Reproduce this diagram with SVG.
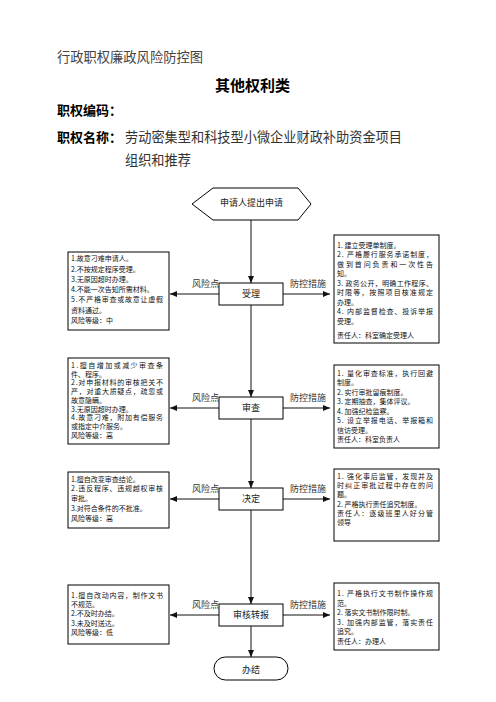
<svg xmlns="http://www.w3.org/2000/svg" width="496" height="702" viewBox="0 0 496 702">
<defs>
<style>
text{font-family:"Noto Sans CJK SC","Liberation Sans",sans-serif}
.hd{font-size:13.3px;fill:#444}
.bd{font-size:13px;font-weight:bold;fill:#000}
.ti{font-size:15px;font-weight:bold;fill:#000}
.nm{font-size:13.2px;fill:#333}
.n{font-size:9px;fill:#222;text-anchor:middle}
.lb{font-size:9px;fill:#333}
.t{font-size:7px;fill:#111}
.box{fill:#fff;stroke:#000;stroke-width:1}
.conn line{stroke:#111;stroke-width:1;fill:none}
</style>
<marker id="ah" markerUnits="userSpaceOnUse" markerWidth="7" markerHeight="6" refX="7" refY="3" orient="auto">
<path d="M0,0 L7,3 L0,6 z" fill="#111"/>
</marker>
</defs>
<rect width="496" height="702" fill="#fff"/>

<g id="header">
<text class="hd" x="57" y="61.8" textLength="146">行政职权廉政风险防控图</text>
<text class="ti" x="252.5" y="90.7" text-anchor="middle">其他权利类</text>
<text class="bd" x="57" y="115">职权编码：</text>
<text class="bd" x="57" y="141.7">职权名称：</text>
<text class="nm" x="125" y="142" textLength="277">劳动密集型和科技型小微企业财政补助资金项目</text>
<text class="nm" x="125" y="165">组织和推荐</text>
</g>

<g class="conn" id="connectors">
<line x1="251" y1="220" x2="251" y2="283" marker-end="url(#ah)"/>
<line x1="251" y1="305" x2="251" y2="397" marker-end="url(#ah)"/>
<line x1="251" y1="419" x2="251" y2="488" marker-end="url(#ah)"/>
<line x1="251" y1="510" x2="251" y2="604" marker-end="url(#ah)"/>
<line x1="251" y1="626" x2="251" y2="657" marker-end="url(#ah)"/>
<line x1="219" y1="294" x2="170" y2="294" marker-end="url(#ah)"/>
<line x1="283" y1="294" x2="330" y2="294" marker-end="url(#ah)"/>
<line x1="219" y1="408" x2="170" y2="408" marker-end="url(#ah)"/>
<line x1="283" y1="408" x2="330" y2="408" marker-end="url(#ah)"/>
<line x1="219" y1="499" x2="170" y2="499" marker-end="url(#ah)"/>
<line x1="283" y1="499" x2="330" y2="499" marker-end="url(#ah)"/>
<line x1="219" y1="615" x2="170" y2="615" marker-end="url(#ah)"/>
<line x1="283" y1="615" x2="330" y2="615" marker-end="url(#ah)"/>
</g>

<g id="labels">
<text class="lb" x="192" y="287">风险点</text>
<text class="lb" x="290" y="287">防控措施</text>
<text class="lb" x="192" y="401">风险点</text>
<text class="lb" x="290" y="401">防控措施</text>
<text class="lb" x="192" y="492">风险点</text>
<text class="lb" x="290" y="492">防控措施</text>
<text class="lb" x="192" y="608">风险点</text>
<text class="lb" x="290" y="608">防控措施</text>
</g>

<g id="start">
<polygon class="box" points="192,204 213,188 298,188 311,204 298,220 213,220"/>
<text class="n" x="251.5" y="206.4">申请人提出申请</text>
</g>
<g id="shouli">
<rect class="box" x="219" y="283" width="64" height="22"/>
<text class="n" x="251" y="297.4">受理</text>
</g>
<g id="shencha">
<rect class="box" x="219" y="397" width="64" height="22"/>
<text class="n" x="251" y="411.4">审查</text>
</g>
<g id="jueding">
<rect class="box" x="219" y="488" width="64" height="22"/>
<text class="n" x="251" y="502.4">决定</text>
</g>
<g id="zhuanbao">
<rect class="box" x="219" y="604" width="64" height="22"/>
<text class="n" x="251" y="618.4">审核转报</text>
</g>
<g id="banjie">
<rect class="box" x="214" y="657" width="74" height="23" rx="11.5"/>
<text class="n" x="251" y="673">办结</text>
</g>

<g id="risk1">
<rect class="box" x="68" y="252" width="101" height="78"/>
<text class="t" x="71" y="261.2">1.故意刁难申请人。</text>
<text class="t" x="71" y="271.5">2.不按规定程序受理。</text>
<text class="t" x="71" y="281.8">3.无原因超时办理。</text>
<text class="t" x="71" y="292.1">4.不能一次告知所需材料。</text>
<text class="t" x="71" y="302.4" textLength="92">5.不严格审查或故意让虚假</text>
<text class="t" x="71" y="312.7">资料通过。</text>
<text class="t" x="71" y="323">风险等级：中</text>
</g>
<g id="measure1">
<rect class="box" x="334" y="235" width="105" height="108"/>
<text class="t" x="337" y="247.7">1. 建立受理单制度。</text>
<text class="t" x="337" y="257.2" textLength="96">2. 严格履行服务承诺制度，</text>
<text class="t" x="337" y="266.7" textLength="96">做到首问负责和一次性告</text>
<text class="t" x="337" y="276.2">知。</text>
<text class="t" x="337" y="285.7" textLength="96">3. 政务公开，明确工作程序、</text>
<text class="t" x="337" y="295.2" textLength="96">时限等，按照项目核准规定</text>
<text class="t" x="337" y="304.7">办理。</text>
<text class="t" x="337" y="314.2" textLength="96">4. 内部监督检查、投诉举报</text>
<text class="t" x="337" y="323.7">受理。</text>
<text class="t" x="337" y="337.7">责任人：科室确定受理人</text>
</g>

<g id="risk2">
<rect class="box" x="68" y="358" width="101" height="86"/>
<text class="t" x="71" y="367.7" textLength="92">1.擅自增加或减少审查条</text>
<text class="t" x="71" y="376.5">件、程序。</text>
<text class="t" x="71" y="385.2" textLength="92">2.对申报材料的审核把关不</text>
<text class="t" x="71" y="394" textLength="92">严，对重大质疑点，疏忽或</text>
<text class="t" x="71" y="402.7">故意隐瞒。</text>
<text class="t" x="71" y="411.5">3.无原因超时办理。</text>
<text class="t" x="71" y="420.2" textLength="92">4.故意刁难，附加有偿服务</text>
<text class="t" x="71" y="429">或指定中介服务。</text>
<text class="t" x="71" y="437.7">风险等级：高</text>
</g>
<g id="measure2">
<rect class="box" x="334" y="365" width="105" height="83"/>
<text class="t" x="337" y="376" textLength="96">1. 量化审查标准，执行回避</text>
<text class="t" x="337" y="385.4">制度。</text>
<text class="t" x="337" y="394.9">2. 实行审批留痕制度。</text>
<text class="t" x="337" y="404.4">3. 定期抽查，集体评议。</text>
<text class="t" x="337" y="413.9">4. 加强纪检监察。</text>
<text class="t" x="337" y="423.4" textLength="96">5. 设立举报电话、举报箱和</text>
<text class="t" x="337" y="432.9">信访受理。</text>
<text class="t" x="337" y="442.4">责任人：科室负责人</text>
</g>

<g id="risk3">
<rect class="box" x="68" y="472" width="101" height="56"/>
<text class="t" x="71" y="481.7">1.擅自改变审查结论。</text>
<text class="t" x="71" y="491.4" textLength="92">2.违反程序、违规越权审核</text>
<text class="t" x="71" y="501.1">审批。</text>
<text class="t" x="71" y="510.8">3.对符合条件的不批准。</text>
<text class="t" x="71" y="520.5">风险等级：高</text>
</g>
<g id="measure3">
<rect class="box" x="334" y="469" width="105" height="72"/>
<text class="t" x="337" y="478.7" textLength="96">1. 强化事后监管，发现并及</text>
<text class="t" x="337" y="488" textLength="96">时纠正审批过程中存在的问</text>
<text class="t" x="337" y="497.3">题。</text>
<text class="t" x="337" y="506.6">2. 严格执行责任追究制度。</text>
<text class="t" x="337" y="515.9" textLength="96">责任人：逐级班里人好分管</text>
<text class="t" x="337" y="525.2">领导</text>
</g>

<g id="risk4">
<rect class="box" x="68" y="585" width="101" height="59"/>
<text class="t" x="71" y="597.7" textLength="92">1.擅自改动内容，制作文书</text>
<text class="t" x="71" y="607">不规范。</text>
<text class="t" x="71" y="616.3">2.不及时办结。</text>
<text class="t" x="71" y="625.6">3.未及时送达。</text>
<text class="t" x="71" y="634.9">风险等级：低</text>
</g>
<g id="measure4">
<rect class="box" x="334" y="583" width="105" height="67"/>
<text class="t" x="337" y="596" textLength="96">1. 严格执行文书制作操作规</text>
<text class="t" x="337" y="605.5">范。</text>
<text class="t" x="337" y="615">2. 落实文书制作限时制。</text>
<text class="t" x="337" y="624.5" textLength="96">3. 加强内部监管，落实责任</text>
<text class="t" x="337" y="634">追究。</text>
<text class="t" x="337" y="643.5">责任人：办理人</text>
</g>
</svg>
